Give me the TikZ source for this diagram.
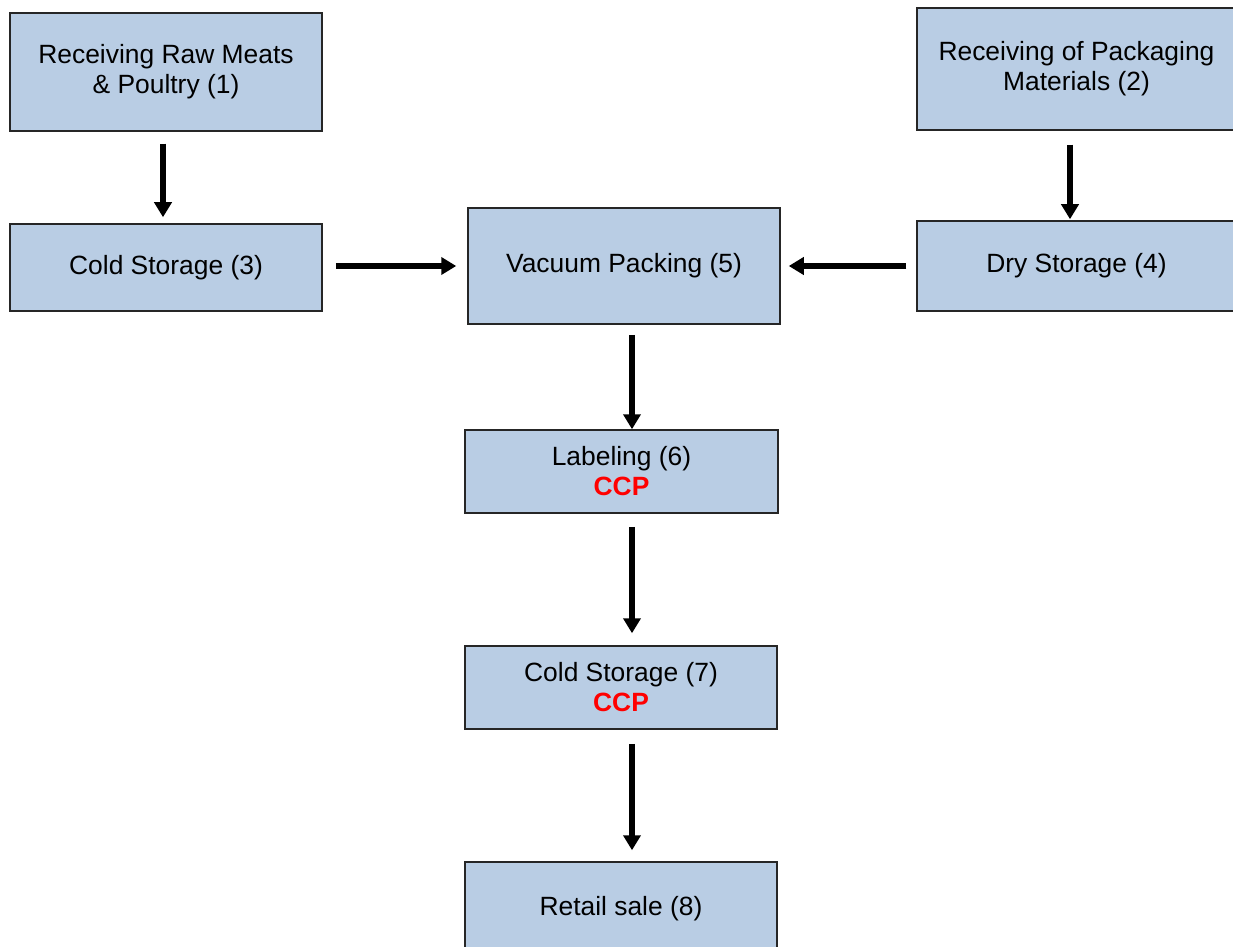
\documentclass[tikz,border=0pt]{standalone}
\usepackage{fontspec}
\setmainfont{Liberation Sans}
\usetikzlibrary{arrows.meta}
\definecolor{boxblue}{RGB}{185,205,228}

\begin{document}
\begin{tikzpicture}[x=.5pt, y=-.5pt,
    stepbox/.style={draw=black!85, fill=boxblue, line width=.75pt, align=center,
        inner sep=0pt, minimum width=156pt, font=\fontsize{13.2}{15}\selectfont},
    flow/.style={line width=2.6pt, -{Triangle[width=8.5pt,length=7.5pt]}}]
    \useasboundingbox (0,0) rectangle (1233,947);

    \node[stepbox, minimum height=59pt] (recv1) at (166,72) {Receiving Raw Meats\\ \& Poultry (1)};
    \node[stepbox, minimum width=159.5pt, minimum height=61pt] (recv2) at (1076.5,69) {Receiving of Packaging\\ Materials (2)};
    \node[stepbox, minimum height=43.5pt] (cold3) at (166,267.5) {Cold Storage (3)};
    \node[stepbox, minimum width=159.5pt, minimum height=45pt] (dry4) at (1076.5,266) {Dry Storage (4)};
    \node[stepbox, minimum height=58pt] (pack5) at (624,266) {Vacuum Packing (5)};
    \node[stepbox, minimum width=156.5pt, minimum height=41.5pt] (label6) at (621.5,471.5) {Labeling (6)\\ \textcolor{red}{\bfseries CCP}};
    \node[stepbox, minimum height=41.5pt] (cold7) at (621,687.5) {Cold Storage (7)\\ \textcolor{red}{\bfseries CCP}};
    \node[stepbox, minimum height=46.5pt] (sale8) at (621,908.5) {Retail sale (8)};

    \coordinate (leftline) at (163,0);
    \coordinate (rightline) at (1070,0);
    \coordinate (spine) at (632,0);

    \draw[flow, shorten <=6pt, shorten >=3pt] (recv1.south -| leftline) -- (cold3.north -| leftline);
    \draw[flow, shorten <=7pt, shorten >=.5pt] (recv2.south -| rightline) -- (dry4.north -| rightline);
    \draw[flow, shorten <=6.5pt, shorten >=5.5pt] (cold3.east |- pack5) -- (pack5.west);
    \draw[flow, shorten <=5pt, shorten >=4pt] (dry4.west) -- (pack5.east);
    \draw[flow, shorten <=5pt] (pack5.south -| spine) -- (label6.north -| spine);
    \draw[flow, shorten <=6.5pt, shorten >=6pt] (label6.south -| spine) -- (cold7.north -| spine);
    \draw[flow, shorten <=7pt, shorten >=5.5pt] (cold7.south -| spine) -- (sale8.north -| spine);
\end{tikzpicture}
\end{document}
